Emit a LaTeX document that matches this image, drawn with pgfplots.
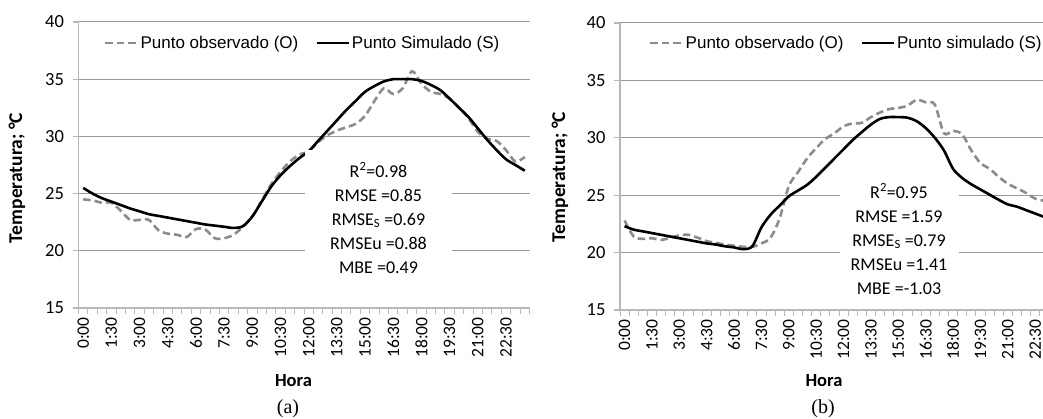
\documentclass[border=0pt]{standalone}
\usepackage{fontspec}
\setmainfont{Carlito}
\newfontfamily\arialf{Liberation Sans}
\newfontfamily\timesf{Liberation Serif}
\usepackage{pgfplots}
\usepackage{pgfplotstable}
\pgfplotsset{compat=1.18}

\pgfplotstableread{
i oa sa ob sb
0 24.5 25.5 22.8 22.3
1 24.4 25.0 21.4 22.0
2 24.2 24.6 21.2 21.85
3 24.2 24.3 21.25 21.7
4 23.5 24.0 21.1 21.55
5 22.7 23.7 21.3 21.4
6 22.7 23.45 21.5 21.25
7 22.7 23.2 21.55 21.1
8 21.8 23.05 21.3 20.95
9 21.5 22.9 21.0 20.8
10 21.4 22.75 20.85 20.7
11 21.2 22.6 20.7 20.55
12 21.9 22.45 20.6 20.45
13 21.85 22.3 20.5 20.3
14 21.1 22.2 20.5 20.55
15 21.1 22.1 20.8 22.2
16 21.4 22.0 21.3 23.3
17 22.1 22.15 23.0 24.1
18 23.0 23.0 25.8 24.9
19 24.4 24.3 27.0 25.4
20 25.8 25.6 28.2 25.9
21 26.9 26.6 29.1 26.6
22 27.8 27.4 29.9 27.4
23 28.4 28.1 30.4 28.2
24 28.7 28.7 31.0 29.0
25 29.5 29.6 31.25 29.8
26 30.1 30.5 31.3 30.5
27 30.5 31.4 31.8 31.15
28 30.8 32.3 32.2 31.65
29 31.1 33.1 32.5 31.8
30 31.8 33.9 32.6 31.8
31 33.1 34.4 32.8 31.75
32 34.2 34.8 33.3 31.45
33 33.7 35.0 33.1 30.85
34 34.2 35.0 32.9 30.0
35 35.7 35.0 30.4 28.9
36 34.6 34.85 30.6 27.3
37 33.9 34.5 30.3 26.5
38 33.7 34.05 28.9 25.95
39 33.3 33.3 27.8 25.5
40 32.5 32.5 27.3 25.05
41 31.6 31.7 26.6 24.6
42 30.4 30.7 26.0 24.2
43 29.8 29.7 25.6 24.0
44 29.6 28.8 25.2 23.7
45 28.8 28.0 24.7 23.4
46 27.8 27.5 24.5 23.1
47 28.2 27.0 24.2 22.8
}\data

\pgfplotsset{
 panel/.style={
  scale only axis, anchor=south west,
  xmin=0, xmax=48, ymin=15, ymax=40,
  axis x line*=bottom, axis y line*=left,
  axis line style={draw=black!28, line width=1.3pt},
  tick align=outside,
  ytick={15,20,...,40}, major tick length=6pt,
  ytick style={draw=black!28, line width=1.2pt},
  ymajorgrids, grid style={black!40, line width=1pt},
  xtick={0.5,3.5,...,45.5},
  xticklabels={0:00,1:30,3:00,4:30,6:00,7:30,9:00,10:30,12:00,13:30,15:00,16:30,18:00,19:30,21:00,22:30},
  major x tick style={draw=none},
  minor xtick={0,1,...,48}, minor tick length=6pt,
  minor x tick style={draw=black!28, line width=1pt},
  xticklabel style={rotate=90, anchor=east, font=\fontsize{17.5}{20}\selectfont},
  yticklabel style={font=\fontsize{18.5}{21}\selectfont, xshift=-5pt},
  /pgf/number format/assume math mode=true,
  legend columns=2, legend cell align=left,
  legend image code/.code={\draw[##1] (0pt,0pt) -- (32pt,0pt);},
  legend style={draw=none, fill=none, inner sep=0pt,
    font=\arialf\fontsize{17}{20}\selectfont,
    /tikz/every even column/.append style={column sep=15pt}},
 },
 obs/.style={black!45, line width=2.6pt, dash pattern=on 7.5pt off 4pt, smooth},
 sim/.style={black, line width=2.6pt, smooth},
}

\begin{document}
\begin{tikzpicture}[x=1pt,y=1pt]
\begin{axis}[panel, at={(78.5pt,111pt)}, width=451pt, height=286pt,
  legend style={at={(axis description cs:0.056,0.927)}, anchor=west}]
\addplot[obs] table[x expr=\thisrow{i}+0.5, y=oa] {\data};
\addlegendentry{Punto observado (O)}
\addplot[sim] table[x expr=\thisrow{i}+0.5, y=sa] {\data};
\addlegendentry{Punto Simulado (S)}
\end{axis}
\begin{axis}[panel, at={(620pt,109pt)}, width=438pt, height=287pt,
  legend style={at={(axis description cs:0.066,0.93)}, anchor=west}]
\addplot[obs] table[x expr=\thisrow{i}+0.5, y=ob] {\data};
\addlegendentry{Punto observado (O)}
\addplot[sim] table[x expr=\thisrow{i}+0.5, y=sb] {\data};
\addlegendentry{Punto simulado (S)}
\end{axis}
% statistics boxes
\fill[white] (305,137) rectangle (452,269);
\node[align=center, font=\fontsize{18}{24}\selectfont] at (378.5,201)
  {R\textsuperscript{2}=0.98\\RMSE =0.85\\RMSE\textsubscript{S} =0.69\\RMSEu =0.88\\MBE =0.49};
\fill[white] (840,116) rectangle (959,241);
\node[align=center, font=\fontsize{18}{24}\selectfont] at (899,180)
  {R\textsuperscript{2}=0.95\\RMSE =1.59\\RMSE\textsubscript{S} =0.79\\RMSEu =1.41\\MBE =-1.03};
% axis titles
\node[rotate=90, font=\bfseries\fontsize{19.5}{22}\selectfont] at (17,241) {Temperatura; °C};
\node[rotate=90, font=\bfseries\fontsize{19.5}{22}\selectfont] at (560,242) {Temperatura; °C};
\node[font=\bfseries\fontsize{18.5}{22}\selectfont] at (293.5,38) {Hora};
\node[font=\bfseries\fontsize{18.5}{22}\selectfont] at (824,38) {Hora};
\node[font=\timesf\fontsize{20}{24}\selectfont] at (288,10) {(a)};
\node[font=\timesf\fontsize{20}{24}\selectfont] at (823,10) {(b)};
\pgfresetboundingbox
\path[use as bounding box] (0,0) rectangle (1043,419);
\end{tikzpicture}
\end{document}
